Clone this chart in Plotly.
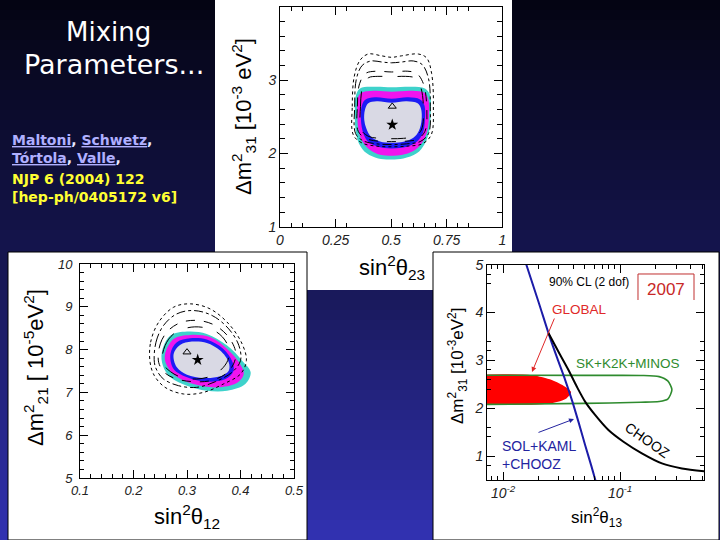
import plotly.graph_objects as go

# ---------------- panel 1: sin^2(theta23) vs dm^2_31 ----------------
atm_cyan_x = [0.340, 0.360, 0.427, 0.502, 0.592, 0.652, 0.675, 0.678, 0.672, 0.652, 0.615, 0.555, 0.502, 0.442, 0.390, 0.355, 0.340, 0.337]
atm_cyan_y = [2.773, 2.886, 2.909, 2.900, 2.909, 2.886, 2.795, 2.545, 2.318, 2.136, 2.000, 1.931, 1.918, 1.931, 2.000, 2.136, 2.318, 2.545]
atm_mag_x = [0.349, 0.367, 0.427, 0.502, 0.592, 0.649, 0.667, 0.670, 0.661, 0.637, 0.600, 0.547, 0.502, 0.450, 0.405, 0.367, 0.352, 0.348]
atm_mag_y = [2.750, 2.827, 2.854, 2.841, 2.854, 2.827, 2.736, 2.500, 2.295, 2.136, 2.031, 1.977, 1.968, 1.981, 2.045, 2.181, 2.341, 2.545]
atm_blue_x = [0.367, 0.382, 0.427, 0.502, 0.577, 0.630, 0.649, 0.652, 0.642, 0.615, 0.570, 0.502, 0.442, 0.397, 0.375, 0.364]
atm_blue_y = [2.636, 2.727, 2.764, 2.745, 2.764, 2.736, 2.659, 2.454, 2.272, 2.159, 2.091, 2.068, 2.091, 2.159, 2.272, 2.454]
atm_grey_x = [0.382, 0.397, 0.435, 0.502, 0.570, 0.619, 0.634, 0.637, 0.625, 0.600, 0.555, 0.502, 0.450, 0.409, 0.388, 0.379]
atm_grey_y = [2.591, 2.682, 2.709, 2.691, 2.709, 2.682, 2.613, 2.454, 2.309, 2.213, 2.159, 2.145, 2.163, 2.227, 2.341, 2.454]

atm_dot_x = [0.330, 0.325, 0.334, 0.360, 0.397, 0.457, 0.502, 0.547, 0.622, 0.660, 0.682, 0.690, 0.680, 0.640, 0.580, 0.502, 0.430, 0.370]
atm_dot_y = [2.250, 2.640, 3.050, 3.270, 3.355, 3.330, 3.310, 3.330, 3.355, 3.300, 3.090, 2.640, 2.250, 2.130, 2.100, 2.090, 2.100, 2.140]
atm_dd_x = [0.340, 0.336, 0.344, 0.370, 0.410, 0.460, 0.502, 0.545, 0.600, 0.640, 0.668, 0.676, 0.668, 0.630, 0.570, 0.502, 0.435, 0.375]
atm_dd_y = [2.270, 2.640, 3.020, 3.200, 3.260, 3.245, 3.235, 3.245, 3.260, 3.210, 3.020, 2.640, 2.270, 2.160, 2.130, 2.120, 2.130, 2.170]
atm_da_x = [0.352, 0.348, 0.358, 0.385, 0.430, 0.502, 0.575, 0.615, 0.645, 0.660, 0.652, 0.615, 0.560, 0.502, 0.445, 0.390]
atm_da_y = [2.300, 2.640, 2.950, 3.090, 3.120, 3.110, 3.120, 3.090, 2.950, 2.640, 2.300, 2.190, 2.165, 2.160, 2.165, 2.200]
atm_ld_x = [0.366, 0.362, 0.372, 0.397, 0.440, 0.502, 0.565, 0.605, 0.632, 0.645, 0.636, 0.605, 0.555, 0.502, 0.450, 0.400]
atm_ld_y = [2.320, 2.640, 2.910, 3.030, 3.050, 3.045, 3.050, 3.030, 2.910, 2.640, 2.320, 2.230, 2.205, 2.200, 2.205, 2.230]

atm_best = (0.505, 2.39)
atm_alt = (0.505, 2.64)

# ---------------- panel 2: sin^2(theta12) vs dm^2_21 ----------------
sol_cyan_x = [0.255, 0.253, 0.269, 0.300, 0.337, 0.375, 0.403, 0.419, 0.409, 0.375, 0.337, 0.300, 0.269]
sol_cyan_y = [7.625, 7.938, 8.328, 8.422, 8.367, 8.094, 7.742, 7.469, 7.196, 7.040, 7.040, 7.157, 7.352]
sol_mag_x = [0.261, 0.259, 0.275, 0.306, 0.344, 0.375, 0.397, 0.406, 0.393, 0.356, 0.312, 0.278]
sol_mag_y = [7.664, 7.899, 8.250, 8.344, 8.289, 8.016, 7.703, 7.430, 7.219, 7.118, 7.196, 7.391]
sol_blue_x = [0.275, 0.269, 0.281, 0.306, 0.337, 0.368, 0.384, 0.387, 0.372, 0.337, 0.300]
sol_blue_y = [7.547, 7.899, 8.172, 8.265, 8.234, 8.016, 7.742, 7.508, 7.313, 7.251, 7.352]
sol_grey_x = [0.281, 0.275, 0.287, 0.309, 0.337, 0.362, 0.378, 0.378, 0.362, 0.331, 0.300]
sol_grey_y = [7.586, 7.899, 8.109, 8.187, 8.156, 7.977, 7.703, 7.508, 7.375, 7.336, 7.414]

sol_dot_x = [0.231, 0.232, 0.247, 0.275, 0.306, 0.343, 0.378, 0.403, 0.411, 0.400, 0.368, 0.331, 0.294, 0.259, 0.239]
sol_dot_y = [7.703, 8.172, 8.640, 8.991, 9.069, 8.952, 8.601, 8.133, 7.742, 7.430, 7.196, 7.001, 6.962, 7.118, 7.391]
sol_dd_x = [0.239, 0.242, 0.256, 0.281, 0.312, 0.347, 0.378, 0.397, 0.400, 0.384, 0.353, 0.318, 0.284, 0.256, 0.244]
sol_dd_y = [7.703, 8.172, 8.562, 8.835, 8.913, 8.796, 8.484, 8.094, 7.742, 7.469, 7.251, 7.118, 7.157, 7.313, 7.508]
sol_da_x = [0.247, 0.250, 0.265, 0.290, 0.322, 0.353, 0.378, 0.391, 0.387, 0.372, 0.344, 0.312, 0.281, 0.259]
sol_da_y = [7.703, 8.133, 8.445, 8.640, 8.679, 8.562, 8.289, 7.938, 7.664, 7.430, 7.274, 7.251, 7.313, 7.453]
sol_ld_x = [0.254, 0.259, 0.275, 0.300, 0.328, 0.356, 0.375, 0.378, 0.368, 0.347, 0.318, 0.290, 0.269]
sol_ld_y = [7.703, 8.094, 8.367, 8.507, 8.523, 8.406, 8.133, 7.820, 7.586, 7.391, 7.313, 7.352, 7.485]

sol_best = (0.320, 7.76)
sol_alt = (0.300, 7.94)

# ---------------- panel 3: sin^2(theta13) vs dm^2_31 ----------------
global_x = [0.005, 0.0176, 0.0261, 0.0339, 0.0381, 0.0350, 0.0261, 0.0135, 0.005]
global_y = [2.70, 2.69, 2.59, 2.45, 2.335, 2.21, 2.105, 2.07, 2.07]
atmo_x = [0.005, 0.05, 0.15, 0.215, 0.255, 0.2767, 0.255, 0.215, 0.15, 0.05, 0.005]
atmo_y = [2.69, 2.685, 2.684, 2.66, 2.57, 2.384, 2.19, 2.14, 2.125, 2.10, 2.075]
solk_x = [0.0157, 0.0200, 0.0252, 0.0297, 0.0339, 0.0391, 0.0440, 0.0502, 0.0565, 0.0620]
solk_y = [5.02, 4.235, 3.468, 2.977, 2.593, 2.138, 1.719, 1.231, 0.811, 0.461]
chooz_x = [0.0244, 0.0307, 0.0361, 0.0426, 0.0502, 0.0611, 0.0794, 0.1067, 0.1533, 0.2272, 0.3367, 0.53]
chooz_y = [3.57, 3.117, 2.803, 2.453, 2.138, 1.860, 1.545, 1.300, 1.057, 0.847, 0.742, 0.68]

W, H = 720, 540
def PX(v): return v / W
def PY(v): return 1 - v / H
def closed(v): return list(v) + [v[0]]

CYAN, MAG, BLUE, GREY = '#3ed2cb', '#f014ee', '#1c1cf5', '#d9d9e4'
fig = go.Figure()

def region(xs, ys, color, xa, ya):
    fig.add_trace(go.Scatter(x=closed(xs), y=closed(ys), mode='lines', fill='toself',
                             fillcolor=color, line=dict(width=0, shape='spline', smoothing=1),
                             hoverinfo='skip', showlegend=False, xaxis=xa, yaxis=ya))

def contour(xs, ys, dash, xa, ya):
    fig.add_trace(go.Scatter(x=closed(xs), y=closed(ys), mode='lines',
                             line=dict(width=1, color='black', dash=dash, shape='spline', smoothing=1),
                             hoverinfo='skip', showlegend=False, xaxis=xa, yaxis=ya))

def points(best, alt, xa, ya):
    fig.add_trace(go.Scatter(x=[best[0]], y=[best[1]], mode='markers',
                             marker=dict(symbol='star', size=9, color='black'),
                             showlegend=False, xaxis=xa, yaxis=ya))
    fig.add_trace(go.Scatter(x=[alt[0]], y=[alt[1]], mode='markers',
                             marker=dict(symbol='triangle-up-open', size=7, color='black', line=dict(width=1)),
                             showlegend=False, xaxis=xa, yaxis=ya))

for xs, ys, c in [(atm_cyan_x, atm_cyan_y, CYAN), (atm_mag_x, atm_mag_y, MAG),
                  (atm_blue_x, atm_blue_y, BLUE), (atm_grey_x, atm_grey_y, GREY)]:
    region(xs, ys, c, 'x', 'y')
for xs, ys, d in [(atm_dot_x, atm_dot_y, 'dot'), (atm_dd_x, atm_dd_y, 'dashdot'),
                  (atm_da_x, atm_da_y, 'dash'), (atm_ld_x, atm_ld_y, 'longdash')]:
    contour(xs, ys, d, 'x', 'y')
points(atm_best, atm_alt, 'x', 'y')

for xs, ys, c in [(sol_cyan_x, sol_cyan_y, CYAN), (sol_mag_x, sol_mag_y, MAG),
                  (sol_blue_x, sol_blue_y, BLUE), (sol_grey_x, sol_grey_y, GREY)]:
    region(xs, ys, c, 'x2', 'y2')
for xs, ys, d in [(sol_dot_x, sol_dot_y, 'dot'), (sol_dd_x, sol_dd_y, 'dashdot'),
                  (sol_da_x, sol_da_y, 'dash'), (sol_ld_x, sol_ld_y, 'longdash')]:
    contour(xs, ys, d, 'x2', 'y2')
points(sol_best, sol_alt, 'x2', 'y2')

fig.add_trace(go.Scatter(x=global_x, y=global_y, mode='lines', fill='toself', fillcolor='#ff0000',
                         line=dict(width=0, shape='spline', smoothing=0.8),
                         showlegend=False, hoverinfo='skip', xaxis='x3', yaxis='y3'))
fig.add_trace(go.Scatter(x=atmo_x, y=atmo_y, mode='lines',
                         line=dict(width=1.6, color='#2e8b2e', shape='spline', smoothing=0.7),
                         showlegend=False, hoverinfo='skip', xaxis='x3', yaxis='y3'))
fig.add_trace(go.Scatter(x=solk_x, y=solk_y, mode='lines',
                         line=dict(width=2, color='#1c1ca8', shape='spline', smoothing=0.8),
                         showlegend=False, hoverinfo='skip', xaxis='x3', yaxis='y3'))
fig.add_trace(go.Scatter(x=chooz_x, y=chooz_y, mode='lines',
                         line=dict(width=2, color='black', shape='spline', smoothing=0.8),
                         showlegend=False, hoverinfo='skip', xaxis='x3', yaxis='y3'))

# ---------------- background & panels ----------------
shapes = []
stops = [(0, (4, 4, 18)), (270, (22, 22, 82)), (540, (50, 50, 178))]
step = 10
for y0 in range(0, 540, step):
    ym = y0 + step / 2
    for (a, ca), (b, cb) in zip(stops[:-1], stops[1:]):
        if a <= ym <= b:
            t = (ym - a) / (b - a)
            col = tuple(round(ca[i] + (cb[i] - ca[i]) * t) for i in range(3))
    shapes.append(dict(type='rect', xref='paper', yref='paper', x0=0, x1=1, y0=PY(y0 + step), y1=PY(y0),
                       fillcolor='rgb(%d,%d,%d)' % col, line=dict(width=0), layer='below'))
shapes.append(dict(type='rect', xref='paper', yref='paper', x0=PX(215), x1=PX(512), y0=PY(290), y1=PY(0),
                   fillcolor='white', line=dict(width=0), layer='below'))
shapes.append(dict(type='rect', xref='paper', yref='paper', x0=PX(8), x1=PX(307), y0=PY(540), y1=PY(252),
                   fillcolor='white', line=dict(width=1, color='black'), layer='below'))
shapes.append(dict(type='rect', xref='paper', yref='paper', x0=PX(433), x1=PX(719), y0=PY(540), y1=PY(252),
                   fillcolor='white', line=dict(width=1, color='black'), layer='below'))
shapes.append(dict(type='path', xref='paper', yref='paper',
                   path='M %f %f L %f %f L %f %f L %f %f' % (PX(638), PY(300), PX(638), PY(274), PX(694), PY(274), PX(694), PY(300)),
                   line=dict(width=1, color='#c03030')))

AX = dict(showline=True, linecolor='black', linewidth=1, mirror='ticks', ticks='inside', ticklen=8,
          tickcolor='black', showgrid=False, zeroline=False, automargin=False,
          tickfont=dict(family='Liberation Sans, Arial', size=14, color='#222', style='italic'))

fig.update_layout(
    width=W, height=H, autosize=False, margin=dict(l=0, r=0, t=0, b=0, pad=0, autoexpand=False),
    paper_bgcolor='#05051a', plot_bgcolor='rgba(0,0,0,0)', showlegend=False,
    shapes=shapes,
    xaxis=dict(AX, domain=[PX(280), PX(502.3)], range=[0, 1], anchor='y',
               tickvals=[0, 0.25, 0.5, 0.75, 1], ticktext=['0', '0.25', '0.5', '0.75', '1'],
               minor=dict(tickvals=[0.05, 0.1, 0.3, 0.55, 0.6, 0.65, 0.7, 0.8, 0.85], ticks='inside', ticklen=4, tickcolor='black')),
    yaxis=dict(AX, domain=[PY(226.7), PY(6.7)], range=[1, 4], anchor='x', dtick=1,
               minor=dict(dtick=0.2, ticks='inside', ticklen=5, tickcolor='black')),
    xaxis2=dict(AX, domain=[PX(80), PX(294)], range=[0.1, 0.5], anchor='y2', dtick=0.1,
                tickfont=dict(family='Liberation Sans, Arial', size=13, color='#222', style='italic'),
                minor=dict(dtick=0.02, ticks='inside', ticklen=4, tickcolor='black')),
    yaxis2=dict(AX, domain=[PY(478), PY(264)], range=[5, 10], anchor='x2', dtick=1, ticklabelstandoff=4,
                tickfont=dict(family='Liberation Sans, Arial', size=13, color='#222', style='italic'),
                minor=dict(dtick=0.2, ticks='inside', ticklen=4, tickcolor='black')),
    xaxis3=dict(AX, domain=[PX(487), PX(704)], type='log', range=[-2.137, -0.284], anchor='y3',
                tickvals=[0.01, 0.1], ticktext=['10<sup>-2</sup>', '10<sup>-1</sup>'],
                minor=dict(tickvals=[0.008, 0.009, 0.02, 0.03, 0.04, 0.05, 0.06, 0.07, 0.08, 0.09, 0.2, 0.3, 0.4, 0.5],
                           ticks='inside', ticklen=4, tickcolor='black')),
    yaxis3=dict(AX, domain=[PY(480), PY(264.6)], range=[0.5, 5], anchor='x3', dtick=1,
                minor=dict(tickvals=[0.8, 1.4, 1.6, 2.4, 2.6, 2.8, 3.2, 3.4, 4.6, 4.8], ticks='inside', ticklen=4, tickcolor='black')),
)

ann = []
def text(x, y, s, size, color='black', family='Liberation Sans, Arial', angle=0, xanchor='center', align='center'):
    ann.append(dict(xref='paper', yref='paper', x=PX(x), y=PY(y), text=s, showarrow=False, textangle=angle,
                    xanchor=xanchor, yanchor='middle', align=align,
                    font=dict(family=family, size=size, color=color)))

# slide title and reference
text(108, 32, 'Mixing', 26, 'white', 'DejaVu Sans')
text(114, 65, 'Parameters...', 27, 'white', 'DejaVu Sans')
U = '<span style="text-decoration:underline">%s</span>'
text(10, 140, '<b>' + (U % 'Maltoni') + '<span style="color:#e8e8ff">, </span>' + (U % 'Schwetz') + '<span style="color:#e8e8ff">,</span></b>',
     14, '#b0b0ff', 'DejaVu Sans', xanchor='left', align='left')
text(10, 158, '<b>' + (U % 'Tórtola') + '<span style="color:#e8e8ff">, </span>' + (U % 'Valle') + '<span style="color:#e8e8ff">,</span></b>',
     14, '#b0b0ff', 'DejaVu Sans', xanchor='left', align='left')
text(10, 179, '<b>NJP 6 (2004) 122</b>', 14, '#ffff33', 'DejaVu Sans', xanchor='left', align='left')
text(10, 197, '<b>[hep-ph/0405172 v6]</b>', 14, '#ffff33', 'DejaVu Sans', xanchor='left', align='left')

# axis titles
text(243, 117, 'Δm<sup>2</sup><sub>31</sub> [10<sup>-3</sup> eV<sup>2</sup>]', 22, angle=-90)
text(392, 268, 'sin<sup>2</sup>θ<sub>23</sub>', 22)
text(35, 368, 'Δm<sup>2</sup><sub>21</sub> [ 10<sup>-5</sup>eV<sup>2</sup>]', 22, angle=-90)
text(187, 516, 'sin<sup>2</sup>θ<sub>12</sub>', 22)
text(457, 366, 'Δm<sup>2</sup><sub>31</sub> [10<sup>-3</sup>eV<sup>2</sup>]', 17, angle=-90)
text(596, 517, 'sin<sup>2</sup>θ<sub>13</sub>', 17)

# right panel labels
text(589, 282, '90% CL (2 dof)', 12)
text(666, 289, '2007', 17, '#c82828')
text(579, 309, 'GLOBAL', 13.5, '#e02828')
text(628, 363, 'SK+K2K+MINOS', 13.5, '#2e8b2e')
text(647, 440, 'CHOOZ', 14, angle=35)
text(500, 455, 'SOL+KAML<br>+CHOOZ', 14, '#2323a0', xanchor='left', align='left')

ann.append(dict(xref='paper', yref='paper', x=PX(532), y=PY(372), ax=23, ay=-55, text='', showarrow=True,
                arrowhead=2, arrowsize=1, arrowwidth=1, arrowcolor='#e02828', standoff=0))
ann.append(dict(xref='paper', yref='paper', x=PX(574), y=PY(419), ax=-37, ay=14, text='', showarrow=True,
                arrowhead=2, arrowsize=1, arrowwidth=1, arrowcolor='#2323a0', standoff=0))
fig.update_layout(annotations=ann)

fig.write_html('out.html', config={'displayModeBar': False, 'staticPlot': True},
               post_script="document.body.style.margin='0';document.body.style.overflow='hidden';")
